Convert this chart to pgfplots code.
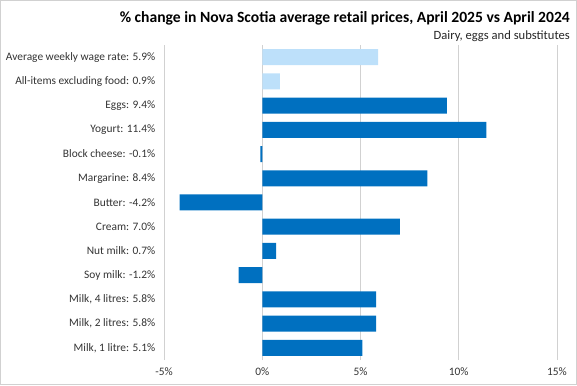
\documentclass[border=0pt]{standalone}
\usepackage{fontspec}
\setmainfont{Carlito}
\usepackage{pgfplots}
\pgfplotsset{compat=1.18}
\definecolor{darkb}{RGB}{0,112,192}
\definecolor{lightb}{RGB}{189,224,250}
\begin{document}
\begin{tikzpicture}[x=1pt,y=1pt]
\useasboundingbox (0,0) rectangle (577,385);
\draw[black!18] (0.5,0.5) rectangle (576.5,384.5);
\node[anchor=base east,font=\bfseries\fontsize{15.6}{18}\selectfont,inner sep=0] at (570,362) {\% change in Nova Scotia average retail prices, April 2025 vs April 2024};
\node[anchor=base east,font=\fontsize{12.6}{14}\selectfont,inner sep=0,text=black!85] at (570,345) {Dairy, eggs and substitutes};
\begin{axis}[at={(164pt,25pt)},anchor=south west,width=393pt,height=315pt,scale only axis,
  xmin=-5,xmax=15,ymin=-0.5,ymax=12.5,
  xbar,bar width=16pt,/pgf/bar shift=0pt,
  axis line style={draw=none},
  xmajorgrids,major grid style={black!18,line width=0.8pt},
  tick style={draw=none},
  xtick={-5,0,5,10,15},
  xticklabel={\pgfmathprintnumber{\tick}\%},
  /pgf/number format/assume math mode=true,
  ytick={0,...,12},
  yticklabels={{Milk, 1 litre: 5.1\%},{Milk, 2 litres: 5.8\%},{Milk, 4 litres: 5.8\%},{Soy milk: -1.2\%},{Nut milk: 0.7\%},{Cream: 7.0\%},{Butter: -4.2\%},{Margarine: 8.4\%},{Block cheese: -0.1\%},{Yogurt: 11.4\%},{Eggs: 9.4\%},{All-items excluding food: 0.9\%},{Average weekly wage rate: 5.9\%}},
  ticklabel style={font=\fontsize{11.4}{14}\selectfont,text=black!80},
  yticklabel style={xshift=-1pt},
  xticklabel style={yshift=-4pt},
  clip=false]
\addplot[fill=darkb,draw=none] coordinates {(5.1,0) (5.8,1) (5.8,2) (-1.2,3) (0.7,4) (7.0,5) (-4.2,6) (8.4,7) (-0.1,8) (11.4,9) (9.4,10)};
\addplot[fill=lightb,draw=none] coordinates {(0.9,11) (5.9,12)};
\end{axis}
\end{tikzpicture}
\end{document}
